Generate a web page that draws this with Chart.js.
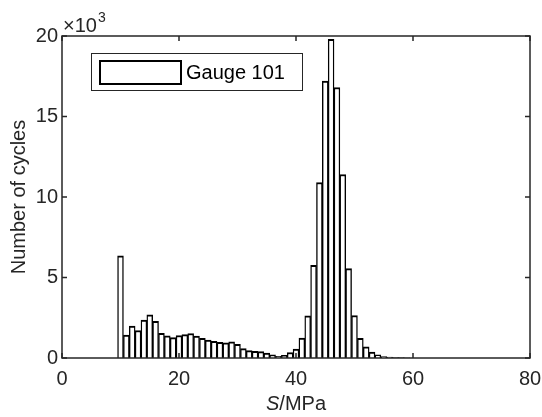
<!DOCTYPE html>
<html>
<head>
<meta charset="utf-8">
<script src="https://cdn.jsdelivr.net/npm/chart.js@4/dist/chart.umd.min.js"></script>
<style>
	html, body { margin:0; padding:0; background:#fff; }
	#wrap { position:relative; width:542px; height:417px; }
</style>
</head>
<body>
<div id="wrap"><canvas id="c" width="542" height="417"></canvas></div>
<script>
// histogram bins (MPa, 1 MPa wide) and counts
const stress = [10, 11, 12, 13, 14, 15, 16, 17, 18, 19,
	20, 21, 22, 23, 24, 25, 26, 27, 28, 29,
	30, 31, 32, 33, 34, 35, 36, 37, 38, 39,
	40, 41, 42, 43, 44, 45, 46, 47, 48, 49,
	50, 51, 52, 53, 54, 55, 56, 57, 58, 59]
const cycles = [6350, 1430, 1990, 1710, 2360, 2680, 2270, 1540, 1370, 1270,
	1400, 1450, 1520, 1360, 1220, 1120, 1030, 970, 940, 1000,
	850, 580, 460, 420, 400, 300, 190, 110, 160, 340,
	560, 1230, 2620, 5750, 10900, 17200, 19800, 16800, 11400, 5550,
	2640, 1220, 700, 360, 200, 90, 50, 30, 20, 10]
const xTicks = [0, 20, 40, 60, 80]
const yTicks = [0, 5000, 10000, 15000, 20000]
const seriesName = 'Gauge 101'
const yTitle = 'Number of cycles'
const xTitle = ['S', '/MPa']
const yExp = '3'

const ink = '#262626'
const fam = '"Liberation Sans", Arial, Helvetica, sans-serif'

// matlab look: closed box, inward ticks, legend inside, x10^3 marker
const matlabAxes = {
	id: 'matlabAxes',
	afterDraw: c => {
		const g = c.ctx, a = c.chartArea, sx = c.scales.x, sy = c.scales.y
		g.save()
		g.strokeStyle = ink
		g.lineWidth = 1.5
		g.strokeRect(a.left, a.top, a.right - a.left, a.bottom - a.top)
		g.beginPath()
		xTicks.forEach(v => {
			const p = sx.getPixelForValue(v)
			g.moveTo(p, a.bottom); g.lineTo(p, a.bottom - 5)
			g.moveTo(p, a.top); g.lineTo(p, a.top + 5)
		})
		yTicks.forEach(v => {
			const p = sy.getPixelForValue(v)
			g.moveTo(a.left, p); g.lineTo(a.left + 5, p)
			g.moveTo(a.right, p); g.lineTo(a.right - 5, p)
		})
		g.stroke()

		// legend
		const ds = c.data.datasets[0]
		g.lineWidth = 1
		g.fillStyle = '#fff'
		g.fillRect(91.5, 53.5, 211, 37)
		g.strokeRect(91.5, 53.5, 211, 37)
		g.fillStyle = ds.backgroundColor
		g.fillRect(100, 61, 81, 23)
		g.strokeStyle = ds.borderColor
		g.lineWidth = 2
		g.strokeRect(100, 61, 81, 23)
		g.fillStyle = '#000'
		g.font = '20px ' + fam
		g.textBaseline = 'middle'
		g.fillText(ds.label, 186, 73)

		// exponent
		g.fillStyle = ink
		g.textBaseline = 'alphabetic'
		g.font = '20px ' + fam
		g.fillText('\u00d710', 63, 32)
		const we = g.measureText('\u00d710').width
		g.font = '14px ' + fam
		g.fillText(yExp, 63 + we + 1, 22)

		// x title with italic S
		g.font = 'italic 20px ' + fam
		const w1 = g.measureText(xTitle[0]).width
		g.font = '20px ' + fam
		const w2 = g.measureText(xTitle[1]).width
		const x0 = (a.left + a.right) / 2 - (w1 + w2) / 2
		g.font = 'italic 20px ' + fam
		g.fillText(xTitle[0], x0, 410)
		g.font = '20px ' + fam
		g.fillText(xTitle[1], x0 + w1, 410)
		g.restore()
	}
}

new Chart(document.getElementById('c'), {
	type: 'bar',
	data: {
		datasets: [{
			label: seriesName,
			data: stress.map((s, i) => ({ x: s, y: cycles[i] })),
			backgroundColor: '#fff',
			borderColor: '#000',
			// sides share one line between neighbours, like matlab edges
			borderWidth: { top: 2, left: 1.4, right: 1.4, bottom: 0 },
			borderSkipped: false,
			barPercentage: 1,
			categoryPercentage: 1,
		}]
	},
	options: {
		responsive: false,
		animation: false,
		devicePixelRatio: 1,
		layout: { padding: { top: 36, right: 12, left: 0, bottom: 0 } },
		plugins: { legend: { display: false }, tooltip: { enabled: false } },
		scales: {
			x: {
				type: 'linear', min: 0, max: 80, offset: false,
				grid: { display: false, drawTicks: false },
				border: { display: false },
				afterBuildTicks: s => { s.ticks = xTicks.map(v => ({ value: v })) },
				afterFit: s => { s.height = 59; s.paddingLeft = 0; s.paddingRight = 0 },
				ticks: { color: ink, padding: 9, maxRotation: 0, font: { size: 20, family: fam } },
			},
			y: {
				min: 0, max: 20000,
				grid: { display: false, drawTicks: false },
				border: { display: false },
				afterBuildTicks: s => { s.ticks = yTicks.map(v => ({ value: v })) },
				afterFit: s => { s.width = 62; s.paddingTop = 0; s.paddingBottom = 0 },
				ticks: { color: ink, padding: 4, font: { size: 20, family: fam }, callback: v => v / 1000 },
				title: { display: true, text: yTitle, color: ink, padding: { top: 7, bottom: 0 }, font: { size: 20, family: fam } },
			}
		}
	},
	plugins: [matlabAxes]
})
</script>
</body>
</html>
